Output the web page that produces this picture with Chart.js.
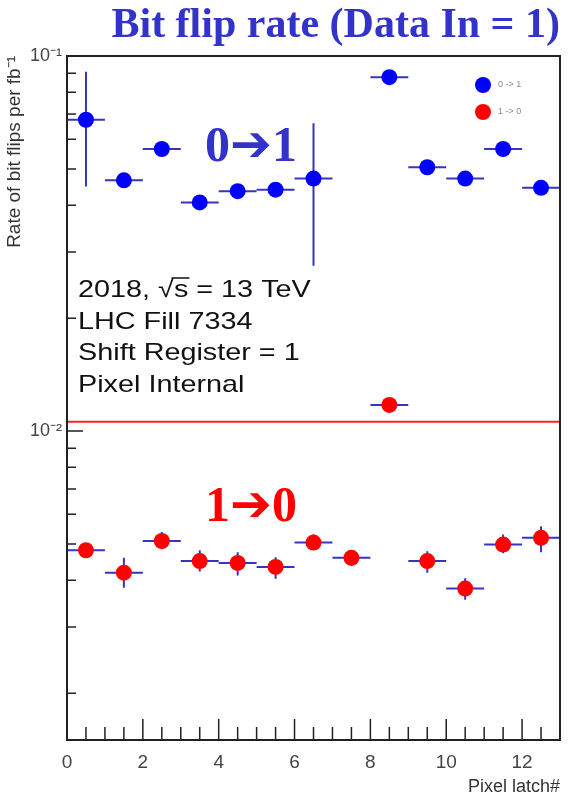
<!DOCTYPE html>
<html lang="en">
<head>
  <meta charset="UTF-8" />
  <title>Bit flip rate (Data In = 1)</title>
  <script src="https://cdn.jsdelivr.net/npm/chart.js"></script>
  <style>
    html, body { margin: 0; padding: 0; background: #fff; }
    canvas { display: block; }
  </style>
</head>
<body>

  <canvas id="bitflips" width="568" height="799"></canvas>

  <script>
    // bins (pixel latch number, bin centres)
    const latch = [0.5, 1.5, 2.5, 3.5, 4.5, 5.5, 6.5, 7.5, 8.5, 9.5, 10.5, 11.5, 12.5];

    // 0 -> 1 flips
    const rate01 = [0.0676, 0.0466, 0.0565, 0.0407, 0.0436, 0.0440, 0.0471, null, 0.0878, 0.0505, 0.0471, 0.0565, 0.0445];
    const hi01   = [0.0908, 0.0475, 0.0575, 0.0414, 0.0444, 0.0448, 0.0662, null, 0.0890, 0.0515, 0.0480, 0.0575, 0.0453];
    const lo01   = [0.0449, 0.0457, 0.0555, 0.0400, 0.0428, 0.0432, 0.0276, null, 0.0866, 0.0495, 0.0462, 0.0555, 0.0437];

    // 1 -> 0 flips
    const rate10 = [0.00481, 0.00419, 0.00509, 0.00450, 0.00445, 0.00434, 0.00504, 0.00459, 0.01174, 0.00450, 0.00380, 0.00498, 0.00519];
    const hi10   = [0.00500, 0.00459, 0.00538, 0.00481, 0.00475, 0.00461, 0.00530, 0.00481, 0.01195, 0.00478, 0.00405, 0.00530, 0.00557];
    const lo10   = [0.00465, 0.00382, 0.00484, 0.00422, 0.00412, 0.00404, 0.00486, 0.00437, 0.01155, 0.00419, 0.00355, 0.00472, 0.00475];

    const refLevel = 0.01058;
    const xRange = [0, 13];
    const yRange = [0.0015, 0.1];
    const infoLines = ['2018, \u221As = 13 TeV', 'LHC Fill 7334', 'Shift Register = 1', 'Pixel Internal'];

    const toPoints = (vals, hi, lo) => latch
      .map((x, i) => ({ x: x, y: vals[i], hi: hi[i], lo: lo[i] }))
      .filter(p => p.y !== null);

    const isDecade = v => Math.abs(Math.log10(v) - Math.round(Math.log10(v))) < 1e-6;

    // error bars (bin width + vertical error)
    const errorBars = {
      id: 'errorBars',
      beforeDatasetsDraw(chart) {
        const { ctx, scales: { x, y } } = chart;
        ctx.save();
        ctx.strokeStyle = '#3535c0';
        ctx.lineWidth = 2;
        chart.data.datasets.forEach(ds => {
          if (!ds.errors) return;
          ds.data.forEach(p => {
            const px = x.getPixelForValue(p.x);
            const py = y.getPixelForValue(p.y);
            ctx.beginPath();
            ctx.moveTo(x.getPixelForValue(p.x - 0.5), py);
            ctx.lineTo(x.getPixelForValue(p.x + 0.5), py);
            ctx.moveTo(px, y.getPixelForValue(p.hi));
            ctx.lineTo(px, y.getPixelForValue(p.lo));
            ctx.stroke();
          });
        });
        ctx.restore();
      }
    };

    // ROOT style frame, inside ticks, legend and labels
    const rootFrame = {
      id: 'rootFrame',
      afterDatasetsDraw(chart) {
        const { ctx, chartArea: a, scales: { x, y } } = chart;
        ctx.save();
        ctx.strokeStyle = '#222';
        ctx.lineWidth = 2;
        ctx.strokeRect(a.left, a.top, a.right - a.left, a.bottom - a.top);

        ctx.lineWidth = 1.5;
        ctx.beginPath();
        for (let v = 0; v <= xRange[1]; v += 0.5) {
          const px = x.getPixelForValue(v);
          const len = v % 2 === 0 ? 21 : 13;
          ctx.moveTo(px, a.bottom);
          ctx.lineTo(px, a.bottom - len);
        }
        for (let e = -3; e <= -1; e++) {
          for (let m = 1; m <= 9; m++) {
            const v = m * Math.pow(10, e);
            if (v < yRange[0] || v > yRange[1]) continue;
            const py = y.getPixelForValue(v);
            ctx.moveTo(a.left, py);
            ctx.lineTo(a.left + (m === 1 ? 16 : 9), py);
          }
        }
        ctx.stroke();

        // legend
        const lx = a.right - 77, ly = a.top + 29;
        chart.data.datasets.filter(ds => ds.errors).forEach((ds, i) => {
          ctx.fillStyle = ds.backgroundColor;
          ctx.beginPath();
          ctx.arc(lx, ly + i * 27, 8, 0, Math.PI * 2);
          ctx.fill();
          ctx.fillStyle = '#8a8a8a';
          ctx.font = '9px Arial, "Liberation Sans"';
          ctx.textBaseline = 'middle';
          ctx.textAlign = 'left';
          ctx.fillText(ds.label, lx + 15, ly + i * 27);
        });

        // info text (slightly stretched, like the original)
        const tx = a.left + 11;
        const rows = [290, 322, 353, 385];
        ctx.save();
        ctx.translate(tx, 0);
        ctx.scale(1.2, 1);
        ctx.fillStyle = '#111';
        ctx.font = '24px "Liberation Sans", Arial';
        ctx.textBaseline = 'middle';
        ctx.textAlign = 'left';
        infoLines.forEach((t, i) => ctx.fillText(t, 0, rows[i]));
        // overline of sqrt
        const pre = ctx.measureText('2018, \u221A').width;
        const sw = ctx.measureText('s').width;
        ctx.lineWidth = 1.5;
        ctx.strokeStyle = '#111';
        ctx.beginPath();
        ctx.moveTo(pre - 2, 278);
        ctx.lineTo(pre + sw + 1, 278);
        ctx.stroke();
        ctx.restore();

        // transition labels
        ctx.textAlign = 'center';
        ctx.textBaseline = 'middle';
        ctx.font = 'bold 50px "Liberation Serif", "DejaVu Sans"';
        ctx.fillStyle = '#3333cc';
        ctx.fillText('0\u27941', 251, 148);
        ctx.fillStyle = '#ff0000';
        ctx.fillText('1\u27940', 251, 508);
        ctx.restore();
      }
    };

    const ctx = document.getElementById('bitflips').getContext('2d');

    const chart = new Chart(ctx, {
      type: 'scatter',
      data: {
        datasets: [
          {
            label: '0 -> 1',
            data: toPoints(rate01, hi01, lo01),
            errors: true,
            backgroundColor: '#0000ff',
            borderWidth: 0,
            pointRadius: 8,
            pointHoverRadius: 8
          },
          {
            label: '1 -> 0',
            data: toPoints(rate10, hi10, lo10),
            errors: true,
            backgroundColor: '#ff0000',
            borderWidth: 0,
            pointRadius: 8,
            pointHoverRadius: 8
          },
          {
            label: 'level',
            data: [{ x: xRange[0], y: refLevel }, { x: xRange[1], y: refLevel }],
            showLine: true,
            borderColor: '#ff2020',
            borderWidth: 2,
            pointRadius: 0
          }
        ]
      },
      options: {
        responsive: false,
        animation: false,
        devicePixelRatio: 1,
        layout: { padding: { left: 0, right: 8, top: 0, bottom: 0 } },
        scales: {
          x: {
            type: 'linear',
            min: xRange[0],
            max: xRange[1],
            grid: { display: false, drawTicks: false },
            border: { display: false },
            ticks: {
              stepSize: 2,
              includeBounds: false,
              padding: 11,
              color: '#444',
              font: { family: 'Liberation Sans, Arial', size: 19 },
              maxRotation: 0
            },
            title: {
              display: true,
              text: 'Pixel latch#',
              align: 'end',
              color: '#333',
              font: { family: 'Liberation Sans, Arial', size: 18 },
              padding: { top: 0, bottom: 1 }
            },
            afterFit(scale) { scale.height = 59; }
          },
          y: {
            type: 'logarithmic',
            min: yRange[0],
            max: yRange[1],
            grid: { display: false, drawTicks: false },
            border: { display: false },
            ticks: {
              padding: 5,
              color: '#444',
              autoSkip: false,
              font: { family: 'Liberation Sans, Arial', size: 18 },
              callback: v => {
                if (!isDecade(v)) return '';
                return Math.round(Math.log10(v)) === -1 ? '10\u207B\u00B9' : '10\u207B\u00B2';
              }
            },
            title: {
              display: true,
              text: 'Rate of bit flips per fb\u207B\u00B9',
              align: 'end',
              color: '#333',
              font: { family: 'Liberation Sans, Arial', size: 19 },
              padding: { top: 3, bottom: 0 }
            },
            afterFit(scale) { scale.width = 67; }
          }
        },
        plugins: {
          legend: { display: false },
          tooltip: { enabled: false },
          title: {
            display: true,
            text: 'Bit flip rate (Data In = 1)',
            align: 'end',
            color: '#3333cc',
            font: { family: 'Liberation Serif, Times New Roman', size: 42, weight: 'bold', lineHeight: 1.0 },
            padding: { top: 5, bottom: 9 }
          }
        }
      },
      plugins: [errorBars, rootFrame]
    });
  </script>

</body>
</html>
